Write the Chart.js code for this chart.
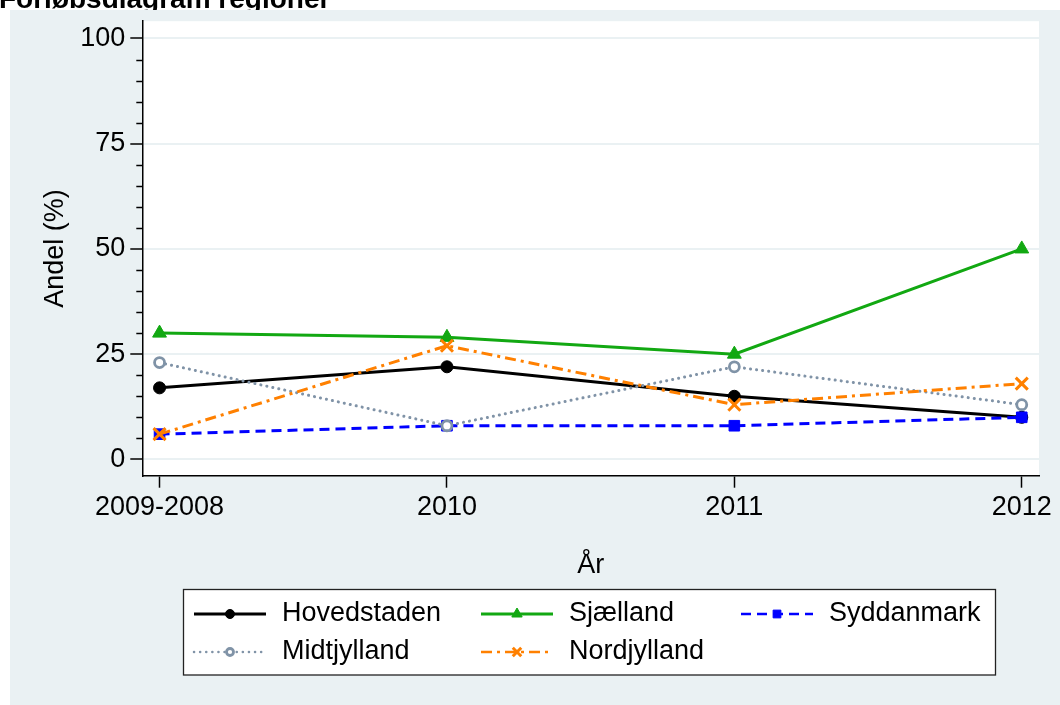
<!DOCTYPE html>
<html>
<head>
<meta charset="utf-8">
<script src="https://cdn.jsdelivr.net/npm/chart.js@4.4.1/dist/chart.umd.min.js"></script>
<style>
  html, body { margin: 0; padding: 0; background: #fff; }
  #wrap { width: 1060px; height: 705px; }
</style>
</head>
<body>
<div id="wrap"><canvas id="myChart" width="1060" height="705"></canvas></div>
<script>
// data
const years = ['2009-2008', '2010', '2011', '2012'];
const hovedstaden = [17, 22, 15, 10];
const sjaelland = [30, 29, 25, 50];
const syddanmark = [6, 8, 8, 10];
const midtjylland = [23, 8, 22, 13];
const nordjylland = [6, 27, 13, 18];
const yTicks = [0, 25, 50, 75, 100];

const FONT = '"Liberation Sans", Arial, sans-serif';
const FSIZE = 27;
const BG = '#eaf1f3';

function pts(arr) {
  return arr.map((v, i) => ({ x: i, y: v }));
}

// background, title, minor ticks and the boxed legend
const stataLook = {
  id: 'stataLook',
  beforeDraw(chart) {
    const ctx = chart.ctx;
    const a = chart.chartArea;
    ctx.save();
    ctx.fillStyle = '#fff';
    ctx.fillRect(0, 0, chart.width, chart.height);
    ctx.fillStyle = '#000';
    ctx.font = 'bold 28px ' + FONT;
    ctx.textBaseline = 'alphabetic';
    ctx.fillText('Forløbsdiagram regioner', -1, 8);
    ctx.fillStyle = BG;
    ctx.fillRect(10, 10, chart.width - 10, chart.height - 10);
    ctx.fillStyle = '#fff';
    ctx.fillRect(a.left, a.top, a.right - a.left, a.bottom - a.top);
    ctx.restore();
  },
  afterDraw(chart) {
    const ctx = chart.ctx;
    const ys = chart.scales.y;
    const a = chart.chartArea;
    ctx.save();
    // minor ticks every 5
    ctx.strokeStyle = '#000';
    ctx.lineWidth = 1.5;
    for (let v = 0; v <= 100; v += 5) {
      if (v % 25 === 0) continue;
      const y = Math.round(ys.getPixelForValue(v)) + 0.5;
      ctx.beginPath();
      ctx.moveTo(a.left - 6, y);
      ctx.lineTo(a.left, y);
      ctx.stroke();
    }
    // legend
    const box = { x: 183.5, y: 589.5, w: 812, h: 85.5 };
    ctx.fillStyle = '#fff';
    ctx.fillRect(box.x, box.y, box.w, box.h);
    ctx.strokeStyle = '#222';
    ctx.lineWidth = 1.3;
    ctx.strokeRect(box.x, box.y, box.w, box.h);
    const cols = [194, 481, 741];
    const rows = [614, 652];
    const sampleW = 72;
    const ds = chart.data.datasets;
    ds.forEach((d, i) => {
      const cx = cols[i % 3];
      const cy = rows[Math.floor(i / 3)];
      ctx.strokeStyle = d.borderColor;
      ctx.lineWidth = d.legendLineWidth;
      ctx.setLineDash(d.borderDash || []);
      ctx.lineCap = d.borderCapStyle || 'butt';
      ctx.beginPath();
      ctx.moveTo(cx, cy);
      ctx.lineTo(cx + sampleW, cy);
      ctx.stroke();
      ctx.setLineDash([]);
      ctx.lineCap = 'butt';
      ctx.fillStyle = d.pointBackgroundColor;
      ctx.strokeStyle = d.pointBorderColor;
      ctx.lineWidth = d.pointBorderWidth;
      Chart.helpers.drawPoint(ctx, {
        pointStyle: d.pointStyle,
        radius: d.legendRadius,
        rotation: 0,
        borderWidth: d.pointBorderWidth
      }, cx + sampleW / 2, cy);
      ctx.fillStyle = '#000';
      ctx.font = FSIZE + 'px ' + FONT;
      ctx.textBaseline = 'middle';
      ctx.textAlign = 'left';
      ctx.fillText(d.label, cx + sampleW + 16, cy);
    });
    ctx.restore();
  }
};

window.onload = function() {
  const canva = document.getElementById('myChart').getContext('2d');

  const datasets = [
    {
      label: 'Hovedstaden', data: pts(hovedstaden), order: 5,
      borderColor: '#000', borderWidth: 3, legendLineWidth: 2.8,
      pointStyle: 'circle', pointRadius: 6, legendRadius: 4.5,
      pointBackgroundColor: '#000', pointBorderColor: '#000', pointBorderWidth: 1
    },
    {
      label: 'Sjælland', data: pts(sjaelland), order: 4,
      borderColor: '#12a812', borderWidth: 3, legendLineWidth: 2.8,
      pointStyle: 'triangle', pointRadius: 8, legendRadius: 6,
      pointBackgroundColor: '#12a812', pointBorderColor: '#12a812', pointBorderWidth: 1
    },
    {
      label: 'Syddanmark', data: pts(syddanmark), order: 3,
      borderColor: '#0000ff', borderWidth: 3, legendLineWidth: 2.5,
      borderDash: [10, 6],
      pointStyle: 'rect', pointRadius: 7.5, legendRadius: 5.5,
      pointBackgroundColor: '#0000ff', pointBorderColor: '#0000ff', pointBorderWidth: 1
    },
    {
      label: 'Midtjylland', data: pts(midtjylland), order: 2,
      borderColor: '#8093a7', borderWidth: 3, legendLineWidth: 2.5,
      borderDash: [0.1, 6], borderCapStyle: 'round',
      pointStyle: 'circle', pointRadius: 5, legendRadius: 3.5,
      pointBackgroundColor: '#fff', pointBorderColor: '#8093a7', pointBorderWidth: 2.8
    },
    {
      label: 'Nordjylland', data: pts(nordjylland), order: 1,
      borderColor: '#ff8000', borderWidth: 3, legendLineWidth: 2.5,
      borderDash: [11, 5, 3, 5],
      pointStyle: 'crossRot', pointRadius: 8.5, legendRadius: 6,
      pointBackgroundColor: '#ff8000', pointBorderColor: '#ff8000', pointBorderWidth: 3
    }
  ];
  datasets.forEach(d => {
    d.fill = false;
    d.tension = 0;
    d.pointHoverRadius = d.pointRadius;
  });

  new Chart(canva, {
    type: 'line',
    data: { datasets: datasets },
    options: {
      responsive: false,
      animation: false,
      devicePixelRatio: 1,
      layout: { padding: { left: 0, top: 17.5, right: 21, bottom: 119.3 } },
      plugins: {
        legend: { display: false },
        title: { display: false },
        tooltip: { enabled: false }
      },
      scales: {
        x: {
          type: 'linear',
          min: -0.06, max: 3.06,
          afterFit: s => { s.height = 110; },
          afterBuildTicks: s => { s.ticks = years.map((_, i) => ({ value: i })); },
          ticks: {
            color: '#000', font: { family: FONT, size: FSIZE }, padding: 4,
            maxRotation: 0, autoSkip: false,
            callback: v => years[v]
          },
          grid: {
            drawOnChartArea: false, drawTicks: true, tickLength: 12,
            tickColor: '#000', tickWidth: 1.5
          },
          border: { display: true, color: '#000', width: 1.5 },
          title: {
            display: true, text: 'År', color: '#000',
            font: { family: FONT, size: FSIZE }, padding: { top: 0, bottom: 4 }
          }
        },
        y: {
          min: -3.87, max: 104.1,
          afterFit: s => { s.width = 142.3; },
          afterBuildTicks: s => { s.ticks = yTicks.map(v => ({ value: v })); },
          ticks: {
            color: '#000', font: { family: FONT, size: FSIZE }, padding: 5,
            callback: v => String(v)
          },
          grid: {
            color: BG, lineWidth: 2, tickLength: 12,
            tickColor: '#000', tickWidth: 1.5
          },
          border: { display: true, color: '#000', width: 1.5 },
          title: {
            display: true, text: 'Andel (%)', color: '#000',
            font: { family: FONT, size: FSIZE }, padding: { top: 39, bottom: 0 }
          }
        }
      }
    },
    plugins: [stataLook]
  });
};
</script>
</body>
</html>
